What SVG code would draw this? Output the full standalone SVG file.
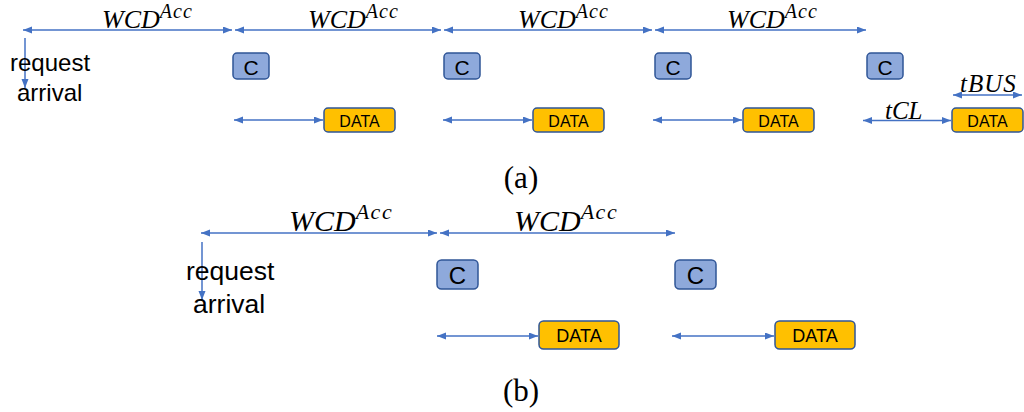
<svg xmlns="http://www.w3.org/2000/svg" width="1024" height="412" viewBox="0 0 1024 412">
  <style>
    .ln { stroke: #4472C4; stroke-width: 1.5; fill: none; marker-end: url(#ah); }
    .dbl { marker-start: url(#ah); }
    .cbox { fill: #8EA9DB; stroke: #2F5597; stroke-width: 1.5; }
    .dbox { fill: #FFC000; stroke: #2F5597; stroke-width: 1.5; }
    .sans { font-family: "Liberation Sans", Arial, sans-serif; fill: #000; }
    .math { font-family: "Liberation Serif", "Times New Roman", serif; font-style: italic; fill: #000; }
    .cap { font-family: "Liberation Serif", "Times New Roman", serif; fill: #000; text-anchor: middle; }
  </style>
  <defs>
    <marker id="ah" markerUnits="userSpaceOnUse" markerWidth="10" markerHeight="8" refX="9" refY="3.5" orient="auto-start-reverse">
      <path d="M0,0 L9,3.5 L0,7 z" fill="#4472C4"/>
    </marker>
  </defs>
  <rect width="1024" height="412" fill="#fff"/>

  <!-- timing connectors -->
  <g id="connectors">
    <!-- (a) access windows -->
    <line class="ln dbl" x1="23" y1="30" x2="232" y2="30"/>
    <line class="ln dbl" x1="235" y1="30" x2="441" y2="30"/>
    <line class="ln dbl" x1="444" y1="30" x2="652" y2="30"/>
    <line class="ln dbl" x1="655" y1="30" x2="866" y2="30"/>
    <line class="ln" x1="25" y1="38" x2="25" y2="88"/>
    <line class="ln dbl" x1="234" y1="120" x2="323" y2="120"/>
    <line class="ln dbl" x1="443" y1="120" x2="532" y2="120"/>
    <line class="ln dbl" x1="653" y1="120" x2="742" y2="120"/>
    <line class="ln dbl" x1="863" y1="120.5" x2="951" y2="120.5"/>
    <line class="ln dbl" x1="953" y1="95" x2="1022" y2="95"/>
    <!-- (b) access windows -->
    <line class="ln dbl" x1="201" y1="233" x2="437" y2="233"/>
    <line class="ln dbl" x1="440" y1="233" x2="675" y2="233"/>
    <line class="ln" x1="202" y1="242" x2="202" y2="300"/>
    <line class="ln dbl" x1="437" y1="336" x2="538" y2="336"/>
    <line class="ln dbl" x1="672" y1="336" x2="774" y2="336"/>
  </g>

  <!-- (a) labels -->
  <g id="labels-a">
    <text class="math" x="102" y="28" font-size="26">WCD<tspan font-size="20" dy="-10" letter-spacing="1">Acc</tspan></text>
    <text class="math" x="308" y="28" font-size="26">WCD<tspan font-size="20" dy="-10" letter-spacing="1">Acc</tspan></text>
    <text class="math" x="518" y="28" font-size="26">WCD<tspan font-size="20" dy="-10" letter-spacing="1">Acc</tspan></text>
    <text class="math" x="727" y="28" font-size="26">WCD<tspan font-size="20" dy="-10" letter-spacing="1">Acc</tspan></text>
    <text class="sans" x="10" y="71" font-size="24">request</text>
    <text class="sans" x="17" y="101" font-size="24">arrival</text>
    <text class="math" x="885" y="119" font-size="25">tCL</text>
    <text class="math" x="960" y="92" font-size="25" letter-spacing="1">tBUS</text>
    <text class="cap" x="521" y="188" font-size="31">(a)</text>
  </g>

  <!-- (a) command nodes -->
  <g id="a-c1"><rect class="cbox" x="233" y="53" width="36" height="26" rx="4"/><text class="sans" x="251" y="74.5" font-size="21" text-anchor="middle">C</text></g>
  <g id="a-c2"><rect class="cbox" x="444" y="53" width="36" height="26" rx="4"/><text class="sans" x="462" y="74.5" font-size="21" text-anchor="middle">C</text></g>
  <g id="a-c3"><rect class="cbox" x="655" y="53" width="36" height="26" rx="4"/><text class="sans" x="673" y="74.5" font-size="21" text-anchor="middle">C</text></g>
  <g id="a-c4"><rect class="cbox" x="867" y="53" width="36" height="26" rx="4"/><text class="sans" x="885" y="74.5" font-size="21" text-anchor="middle">C</text></g>

  <!-- (a) data nodes -->
  <g id="a-d1"><rect class="dbox" x="324" y="108" width="71" height="24" rx="4"/><text class="sans" x="359.5" y="126.5" font-size="16" text-anchor="middle">DATA</text></g>
  <g id="a-d2"><rect class="dbox" x="533" y="108" width="71" height="24" rx="4"/><text class="sans" x="568.5" y="126.5" font-size="16" text-anchor="middle">DATA</text></g>
  <g id="a-d3"><rect class="dbox" x="743" y="108" width="71" height="24" rx="4"/><text class="sans" x="778.5" y="126.5" font-size="16" text-anchor="middle">DATA</text></g>
  <g id="a-d4"><rect class="dbox" x="952" y="108" width="71" height="24" rx="4"/><text class="sans" x="987.5" y="126.5" font-size="16" text-anchor="middle">DATA</text></g>

  <!-- (b) labels -->
  <g id="labels-b">
    <text class="math" x="289" y="231" font-size="30">WCD<tspan font-size="22" dy="-12" letter-spacing="1.5">Acc</tspan></text>
    <text class="math" x="514" y="231" font-size="30">WCD<tspan font-size="22" dy="-12" letter-spacing="1.5">Acc</tspan></text>
    <text class="sans" x="186" y="280" font-size="26.5">request</text>
    <text class="sans" x="193" y="313" font-size="26.5">arrival</text>
    <text class="cap" x="521" y="401" font-size="31">(b)</text>
  </g>

  <!-- (b) command nodes -->
  <g id="b-c1"><rect class="cbox" x="437" y="260" width="41" height="29" rx="4.5"/><text class="sans" x="457.5" y="283.5" font-size="24" text-anchor="middle">C</text></g>
  <g id="b-c2"><rect class="cbox" x="675" y="260" width="41" height="29" rx="4.5"/><text class="sans" x="695.5" y="283.5" font-size="24" text-anchor="middle">C</text></g>

  <!-- (b) data nodes -->
  <g id="b-d1"><rect class="dbox" x="539" y="321" width="80" height="28" rx="4.5"/><text class="sans" x="579" y="341.5" font-size="18" text-anchor="middle">DATA</text></g>
  <g id="b-d2"><rect class="dbox" x="775" y="321" width="80" height="28" rx="4.5"/><text class="sans" x="815" y="341.5" font-size="18" text-anchor="middle">DATA</text></g>
</svg>
